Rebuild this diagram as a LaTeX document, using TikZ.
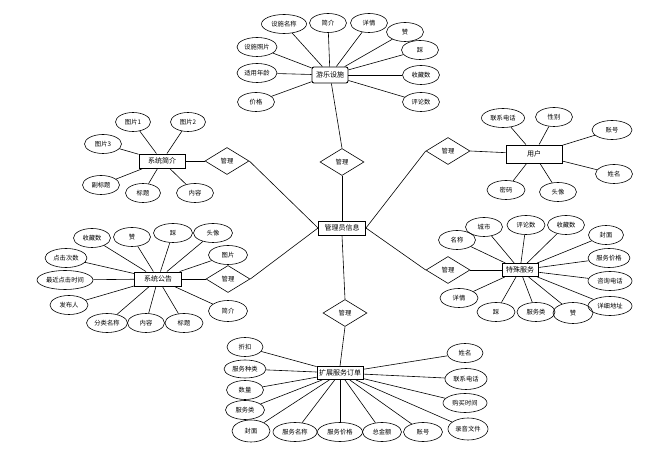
\documentclass[tikz,border=0pt]{standalone}
\usepackage{fontspec}
\newfontfamily\cjk{Noto Sans CJK SC}
\usetikzlibrary{shapes.geometric}
\begin{document}
\begin{tikzpicture}[x=1pt,y=-1pt,
  every node/.style={font=\cjk\fontsize{6.3}{7}\selectfont},
  attr/.style={ellipse,draw,line width=0.6pt,minimum width=37pt,minimum height=19pt,inner sep=0.5pt},
  ent/.style={rectangle,draw,line width=0.9pt,minimum height=14pt,inner sep=1.5pt,font=\cjk\fontsize{7}{8}\selectfont},
  rel/.style={diamond,draw,line width=0.6pt,minimum width=44pt,minimum height=27pt,inner sep=0pt,shape aspect=1.6},
  conn/.style={line width=0.6pt}]
\useasboundingbox (0,0) rectangle (665,465);
% center
\node[ent,minimum width=47pt] (adm) at (342,228) {管理员信息};
% top entity
\node[ent,rounded corners=2pt,minimum width=36pt,minimum height=16pt] (ys) at (330,75) {游乐设施};
\node[attr,minimum width=45pt] (y1) at (284,24) {设施名称};
\node[attr] (y2) at (328,23) {简介};
\node[attr] (y3) at (369,23) {详情};
\node[attr] (y4) at (405,32) {赞};
\node[attr] (y5) at (420,50) {踩};
\node[attr] (y6) at (421,75) {收藏数};
\node[attr] (y7) at (421,102) {评论数};
\node[attr,minimum width=40pt] (y8) at (257,47) {设施照片};
\node[attr,minimum width=40pt] (y9) at (257,73) {适用年龄};
\node[attr] (y10) at (256,102) {价格};
\node[rel] (r1) at (342,162) {管理};
% 系统简介
\node[ent,minimum width=46pt] (jj) at (162,161) {系统简介};
\node[attr,minimum width=35pt] (j1) at (133,122) {图片1};
\node[attr,minimum width=35pt] (j2) at (188,122) {图片2};
\node[attr] (j3) at (103,144) {图片3};
\node[attr] (j4) at (101,185) {副标题};
\node[attr,minimum width=35pt] (j5) at (143,193) {标题};
\node[attr] (j6) at (195,193) {内容};
\node[rel] (r2) at (227,161) {管理};
% 用户
\node[ent,minimum width=56pt,minimum height=18pt] (yh) at (534,154) {用户};
\node[attr,minimum width=43pt] (u1) at (503,118) {联系电话};
\node[attr] (u2) at (554,117) {性别};
\node[attr,minimum width=40pt] (u3) at (612,130) {账号};
\node[attr] (u4) at (614,174) {姓名};
\node[attr] (u5) at (558,192) {头像};
\node[attr,minimum width=38pt] (u6) at (506,190) {密码};
\node[rel] (r3) at (448,151) {管理};
% 系统公告
\node[ent,minimum width=47pt] (gg) at (158,279) {系统公告};
\node[attr] (g1) at (92,238) {收藏数};
\node[attr] (g2) at (132,237) {赞};
\node[attr,minimum width=39pt] (g3) at (173,233) {踩};
\node[attr,minimum width=39pt] (g4) at (213,233) {头像};
\node[attr,minimum width=39pt] (g5) at (228,255) {图片};
\node[attr,minimum width=42pt] (g6) at (66,258) {点击次数};
\node[attr,minimum width=56pt] (g7) at (65,280) {最近点击时间};
\node[attr,minimum width=38pt] (g8) at (69,305) {发布人};
\node[attr,minimum width=41pt] (g9) at (107,323) {分类名称};
\node[attr] (g10) at (146,323) {内容};
\node[attr,minimum width=38pt] (g11) at (184,323) {标题};
\node[attr,minimum width=39pt,minimum height=21pt] (g12) at (228,311) {简介};
\node[rel] (r4) at (228,279) {管理};
% 特殊服务
\node[ent,minimum width=36pt,minimum height=13pt] (ts) at (520,270) {特殊服务};
\node[attr] (t1) at (457,240) {名称};
\node[attr] (t2) at (484,227) {城市};
\node[attr,minimum width=38pt] (t3) at (526,225) {评论数};
\node[attr] (t4) at (566,225) {收藏数};
\node[attr,minimum width=35pt] (t5) at (606,235) {封面};
\node[attr,minimum width=42pt] (t6) at (609,258) {服务价格};
\node[attr,minimum width=44pt] (t7) at (610,281) {咨询电话};
\node[attr,minimum width=44pt] (t8) at (610,306) {详细地址};
\node[attr,minimum width=38pt] (t9) at (459,298) {详情};
\node[attr,minimum width=38pt] (t10) at (496,312) {踩};
\node[attr,minimum width=38pt] (t11) at (536,312) {服务类};
\node[attr,minimum width=40pt,minimum height=21pt] (t12) at (573,313) {赞};
\node[rel] (r5) at (448,270) {管理};
% 扩展服务订单
\node[ent,minimum width=46pt,minimum height=13pt] (dd) at (340,373) {扩展服务订单};
\node[attr,minimum width=36pt] (d1) at (245,347) {折扣};
\node[attr,minimum width=42pt,minimum height=18pt] (d2) at (245,369) {服务种类};
\node[attr,minimum width=37pt] (d3) at (245,390) {数量};
\node[attr,minimum width=39pt] (d4) at (245,410) {服务类};
\node[attr,minimum width=38pt,minimum height=22pt] (d5) at (251,431) {封面};
\node[attr,minimum width=44pt] (d6) at (295,432) {服务名称};
\node[attr,minimum width=45pt] (d7) at (340,432) {服务价格};
\node[attr,minimum width=39pt] (d8) at (382,432) {总金额};
\node[attr,minimum width=39pt] (d9) at (423,432) {账号};
\node[attr,minimum width=36pt] (d10) at (465,353) {姓名};
\node[attr,minimum width=42pt,minimum height=21pt] (d11) at (466,379) {联系电话};
\node[attr,minimum width=44pt] (d12) at (465,403) {购买时间};
\node[attr,minimum width=40pt,minimum height=22pt] (d13) at (468,429) {录音文件};
\node[rel] (r6) at (345,313) {管理};
% connectors
\foreach \a in {y1,y2,y3,y4,y5,y6,y7,y8,y9,y10} \draw[conn] (ys) -- (\a);
\foreach \a in {j1,j2,j3,j4,j5,j6} \draw[conn] (jj) -- (\a);
\foreach \a in {u1,u2,u3,u4,u5,u6} \draw[conn] (yh) -- (\a);
\foreach \a in {g1,g2,g3,g4,g5,g6,g7,g8,g9,g10,g11,g12} \draw[conn] (gg) -- (\a);
\foreach \a in {t1,t2,t3,t4,t5,t6,t7,t8,t9,t10,t11,t12} \draw[conn] (ts) -- (\a);
\foreach \a in {d1,d2,d3,d4,d5,d6,d7,d8,d9,d10,d11,d12,d13} \draw[conn] (dd) -- (\a);
\draw[conn] (ys) -- (r1.north); \draw[conn] (r1.south) -- (adm.north);
\draw[conn] (jj) -- (r2.west); \draw[conn] (r2.east) -- (adm.west);
\draw[conn] (yh) -- (r3.east); \draw[conn] (r3.west) -- (adm.east);
\draw[conn] (gg) -- (r4.west); \draw[conn] (r4.east) -- (adm.west);
\draw[conn] (ts) -- (r5.east); \draw[conn] (r5.west) -- (adm.east);
\draw[conn] (r6.north) -- (adm.south); \draw[conn] (r6.south) -- (dd.north);
\end{tikzpicture}
\end{document}
